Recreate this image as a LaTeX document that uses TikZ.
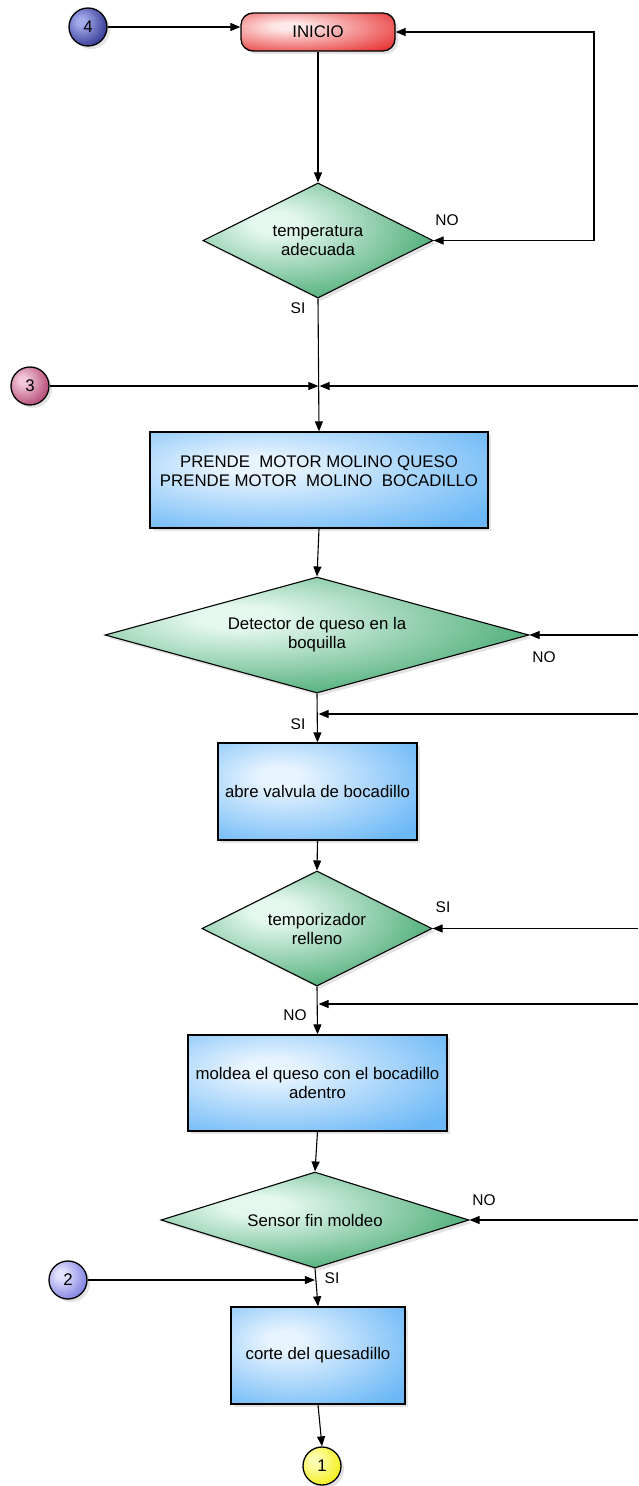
\documentclass[tikz,border=0pt]{standalone}
\usepackage{fontspec}
\setmainfont{Liberation Sans}
\usetikzlibrary{shapes.geometric,arrows.meta,shadows}
\definecolor{gin}{RGB}{255,255,255}
\definecolor{gout}{RGB}{0,0,0}
\definecolor{boxout}{RGB}{108,184,246}
\definecolor{boxin}{RGB}{232,244,255}
\definecolor{diaout}{RGB}{52,160,100}
\definecolor{diain}{RGB}{228,248,238}
\definecolor{redout}{RGB}{232,58,58}
\definecolor{redin}{RGB}{255,232,232}
\definecolor{c4out}{RGB}{34,36,132}
\definecolor{c4in}{RGB}{165,172,236}
\definecolor{c3out}{RGB}{168,52,98}
\definecolor{c3in}{RGB}{244,200,218}
\definecolor{c2out}{RGB}{110,110,220}
\definecolor{c2in}{RGB}{228,228,255}
\definecolor{c1out}{RGB}{240,236,0}
\definecolor{c1in}{RGB}{255,255,180}
\pgfdeclareradialshading[gin,gout]{offrad}{\pgfpoint{-10bp}{8bp}}{color(0bp)=(gin); color(5bp)=(gin); color(38bp)=(gout); color(100bp)=(gout)}
\tikzset{
  gfill/.style 2 args={/utils/exec={\colorlet{gin}{#1}\colorlet{gout}{#2}}, shading=offrad},
  shad/.style={drop shadow={shadow xshift=3pt,shadow yshift=-3pt,opacity=0.22}},
  arr/.style={-{Triangle[length=10pt,width=8pt]}, line width=1.1pt},
  arrboth/.style={{Triangle[length=10pt,width=8pt]}-{Triangle[length=10pt,width=8pt]}, line width=1.1pt},
  box/.style={rectangle, draw=black, line width=1.3pt, gfill={boxin}{boxout}, shad, align=center, inner sep=0pt},
  dia/.style={diamond, draw=black, line width=1.1pt, gfill={diain}{diaout}, shad, align=center, inner sep=0pt},
  conn/.style={circle, draw=black, line width=1.3pt, minimum size=38pt, inner sep=0pt, shad},
  txt/.style={align=center, inner sep=0pt},
  lbl/.style={inner sep=0pt, font=\fontsize{15.5}{18}\selectfont},
  every node/.append style={font=\fontsize{16.8}{19}\selectfont},
}
\begin{document}
\begin{tikzpicture}[x=1pt,y=-1pt]
\useasboundingbox (0,0) rectangle (638,1486);
% nodes
\node[conn, gfill={c4in}{c4out}] (c4) at (88,27) {4};
\node[rectangle, rounded corners=12pt, draw=black, line width=1.3pt, gfill={redin}{redout}, shad, minimum width=154pt, minimum height=38pt] (inicio) at (318,32) {INICIO};
\node[dia, aspect=2, minimum width=230pt, minimum height=115pt] (d1) at (318,240.5) {temperatura\\adecuada};
\node[conn, gfill={c3in}{c3out}] (c3) at (30,386) {3};
\node[box, minimum width=338pt, minimum height=96pt] (b1) at (319,480) {};
\node[txt] (b1t) at (319,471) {PRENDE\ \ MOTOR MOLINO QUESO\\PRENDE MOTOR\ \ MOLINO\ \ BOCADILLO};
\node[dia, aspect=3.66, minimum width=424pt, minimum height=116pt] (d2) at (317,635) {Detector de queso en la\\boquilla};
\node[box, minimum width=199pt, minimum height=97pt] (b2) at (317.5,791.5) {abre valvula de bocadillo};
\node[dia, aspect=2, minimum width=230pt, minimum height=115pt] (d3) at (317,928.5) {temporizador\\relleno};
\node[box, minimum width=259pt, minimum height=96pt] (b3) at (317.5,1083) {moldea el queso con el bocadillo\\adentro};
\node[dia, aspect=3.2, minimum width=308pt, minimum height=96pt] (d4) at (315,1220) {Sensor fin moldeo};
\node[conn, gfill={c2in}{c2out}] (c2) at (68,1280) {2};
\node[box, minimum width=174pt, minimum height=97pt] (b4) at (318,1355.5) {corte del quesadillo};
\node[conn, gfill={c1in}{c1out}] (c1) at (322,1466) {1};
% free ends and junctions
\coordinate (r1) at (594,32);
\coordinate (j1) at (319,386);
\coordinate (e1) at (638,386);
\coordinate (e2) at (638,635);
\coordinate (j2) at (318,714);
\coordinate (e3) at (638,714);
\coordinate (e4) at (638,928.5);
\coordinate (j3) at (318,1004);
\coordinate (e5) at (638,1004);
\coordinate (e6) at (638,1220);
\coordinate (j4) at (315.5,1280);
% connectors
\draw[arr] (c4) -- (inicio.west |- c4);
\draw[arrboth] (d1.east) -- (d1.east -| r1) -- (r1) -- (inicio.east);
\draw[arr] (inicio.south) -- (d1.north);
\draw[arr] (d1.south) -- (b1.north);
\draw[arr] (c3) -- ([xshift=-0.6pt]j1);
\draw[arr] (e1) -- ([xshift=0.6pt]j1);
\draw[arr] (b1.south) -- (d2.north);
\draw[arr] (e2) -- (d2.east);
\draw[arr] (d2.south) -- (b2.north);
\draw[arr] (e3) -- ([xshift=0.6pt]j2);
\draw[arr] (b2.south) -- (d3.north);
\draw[arr] (e4) -- (d3.east);
\draw[arr] (d3.south) -- (b3.north);
\draw[arr] (e5) -- ([xshift=0.6pt]j3);
\draw[arr] (b3.south) -- (d4.north);
\draw[arr] (e6) -- (d4.east);
\draw[arr] (d4.south) -- (b4.north);
\draw[arr] (c2) -- ([xshift=-0.6pt]j4);
\draw[arr] (b4.south) -- (c1.north);
% labels
\node[lbl] (l1) at (447,220) {NO};
\node[lbl] (l2) at (298,308) {SI};
\node[lbl] (l3) at (544,657) {NO};
\node[lbl] (l4) at (298,724) {SI};
\node[lbl] (l5) at (443,907) {SI};
\node[lbl] (l6) at (295,1015) {NO};
\node[lbl] (l7) at (484,1200) {NO};
\node[lbl] (l8) at (332,1278) {SI};
\end{tikzpicture}
\end{document}
